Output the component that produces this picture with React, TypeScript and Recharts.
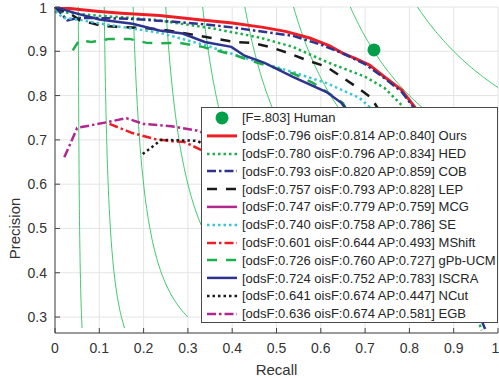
import { ComposedChart, Line, Scatter, XAxis, YAxis, CartesianGrid, Legend, Label } from "recharts";

const RECALL_TICKS = [0, 0.1, 0.2, 0.3, 0.4, 0.5, 0.6, 0.7, 0.8, 0.9, 1];
const PRECISION_TICKS = [0.3, 0.4, 0.5, 0.6, 0.7, 0.8, 0.9, 1];
const ISO_F = [0.1, 0.2, 0.3, 0.4, 0.5, 0.6, 0.7, 0.8, 0.9];

const HUMAN_F = ".803";
const HUMAN = [{ r: 0.72, p: 0.903 }];

const NAMES = ["Ours", "HED", "COB", "LEP", "MCG", "SE", "MShift", "gPb-UCM", "ISCRA", "NCut", "EGB"];
const ODS = ["0.796", "0.780", "0.793", "0.757", "0.747", "0.740", "0.601", "0.726", "0.724", "0.641", "0.636"];
const OIS = ["0.814", "0.796", "0.820", "0.793", "0.779", "0.758", "0.644", "0.760", "0.752", "0.674", "0.674"];
const AP = ["0.840", "0.834", "0.859", "0.828", "0.759", "0.786", "0.493", "0.727", "0.783", "0.447", "0.581"];

// [recall, precision] pairs
const OURS = [[0, 1], [0.05, 0.995], [0.1, 0.99], [0.15, 0.986], [0.236, 0.981], [0.326, 0.971], [0.4, 0.964], [0.47, 0.954], [0.52, 0.945], [0.575, 0.93], [0.62, 0.912], [0.649, 0.896], [0.68, 0.883], [0.71, 0.869], [0.744, 0.842], [0.782, 0.813], [0.812, 0.774], [0.84, 0.71], [0.87, 0.6], [0.895, 0.48], [0.915, 0.38], [0.93, 0.31]];
const HED = [[0, 0.99], [0.05, 0.985], [0.1, 0.98], [0.15, 0.977], [0.225, 0.971], [0.354, 0.952], [0.462, 0.931], [0.537, 0.91], [0.613, 0.876], [0.699, 0.843], [0.744, 0.817], [0.782, 0.779], [0.81, 0.73], [0.84, 0.66], [0.87, 0.57], [0.9, 0.47], [0.93, 0.37], [0.963, 0.27]];
const COB = [[0, 1], [0.028, 0.97], [0.05, 0.975], [0.1, 0.975], [0.175, 0.973], [0.25, 0.968], [0.326, 0.962], [0.4, 0.954], [0.47, 0.944], [0.537, 0.935], [0.6, 0.915], [0.65, 0.895], [0.7, 0.871], [0.744, 0.839], [0.782, 0.809], [0.812, 0.77], [0.85, 0.68], [0.88, 0.58], [0.91, 0.46], [0.94, 0.35], [0.972, 0.27]];
const LEP = [[0, 1], [0.02, 0.99], [0.033, 0.986], [0.062, 0.966], [0.082, 0.964], [0.105, 0.957], [0.146, 0.955], [0.236, 0.95], [0.315, 0.937], [0.405, 0.921], [0.444, 0.919], [0.484, 0.91], [0.53, 0.895], [0.568, 0.88], [0.613, 0.865], [0.68, 0.82], [0.714, 0.795], [0.76, 0.72], [0.8, 0.62], [0.84, 0.5], [0.87, 0.4], [0.89, 0.33]];
const MCG = [[0.36, 0.76], [0.45, 0.745], [0.55, 0.72], [0.65, 0.68], [0.72, 0.62], [0.78, 0.52], [0.82, 0.42], [0.85, 0.33]];
const SE = [[0, 0.99], [0.02, 0.975], [0.05, 0.972], [0.1, 0.963], [0.15, 0.955], [0.236, 0.942], [0.338, 0.914], [0.428, 0.885], [0.473, 0.872], [0.537, 0.853], [0.613, 0.828], [0.687, 0.795], [0.71, 0.774], [0.76, 0.68], [0.8, 0.56], [0.83, 0.45], [0.86, 0.34]];
const MSHIFT = [[0.123, 0.736], [0.173, 0.716], [0.225, 0.702], [0.263, 0.697], [0.292, 0.695], [0.331, 0.677], [0.38, 0.64], [0.43, 0.58], [0.48, 0.5], [0.52, 0.42], [0.55, 0.35]];
const GPB = [[0.04, 0.902], [0.055, 0.925], [0.082, 0.921], [0.123, 0.928], [0.168, 0.928], [0.207, 0.919], [0.24, 0.918], [0.28, 0.919], [0.333, 0.91], [0.41, 0.89], [0.45, 0.876], [0.49, 0.865], [0.537, 0.85], [0.58, 0.83], [0.626, 0.8], [0.65, 0.783], [0.69, 0.71], [0.73, 0.6], [0.76, 0.5], [0.79, 0.4], [0.81, 0.33]];
const ISCRA = [[0, 1], [0.05, 0.985], [0.1, 0.972], [0.175, 0.962], [0.236, 0.947], [0.288, 0.94], [0.338, 0.921], [0.398, 0.91], [0.428, 0.89], [0.473, 0.874], [0.537, 0.842], [0.613, 0.808], [0.647, 0.783], [0.68, 0.74], [0.72, 0.64], [0.76, 0.52], [0.79, 0.42], [0.82, 0.33]];
const NCUT = [[0.198, 0.668], [0.24, 0.7], [0.28, 0.699], [0.32, 0.698], [0.4, 0.66], [0.5, 0.55], [0.6, 0.43], [0.66, 0.33]];
const EGB = [[0.021, 0.661], [0.033, 0.688], [0.05, 0.727], [0.118, 0.74], [0.161, 0.749], [0.2, 0.736], [0.262, 0.731], [0.32, 0.721], [0.38, 0.7], [0.45, 0.65], [0.52, 0.55], [0.58, 0.44], [0.62, 0.36]];

const CURVES = [OURS, HED, COB, LEP, MCG, SE, MSHIFT, GPB, ISCRA, NCUT, EGB];

const FONT = "'Liberation Sans', Arial, Helvetica, sans-serif";
const RED = "#ec1f27";
const GREEN = "#1eae4b";
const NAVY = "#2e338f";
const BLACK = "#1a1a1a";
const MAGENTA = "#b0278f";
const CYAN = "#3cc5d2";
const ISO_COLOR = "#3cc86c";
const HUMAN_COLOR = "#00a04b";

const SOLID = undefined;
const DOT = "2.5 3";
const DASH = "10 9";
const DASHDOT = "9 3 2.5 3";

const STYLES = [
  { color: RED, dash: SOLID, width: 3 },
  { color: GREEN, dash: DOT, width: 2.5 },
  { color: NAVY, dash: DASHDOT, width: 2.5 },
  { color: BLACK, dash: DASH, width: 2.5 },
  { color: MAGENTA, dash: SOLID, width: 2.5 },
  { color: CYAN, dash: DOT, width: 2.5 },
  { color: RED, dash: DASHDOT, width: 2.5 },
  { color: GREEN, dash: DASH, width: 2.5 },
  { color: NAVY, dash: SOLID, width: 2.5 },
  { color: BLACK, dash: DOT, width: 2.5 },
  { color: MAGENTA, dash: DASHDOT, width: 2.5 },
];

const series = NAMES.map((name, i) => ({
  name,
  label: `[odsF:${ODS[i]} oisF:${OIS[i]} AP:${AP[i]}] ${name}`,
  data: CURVES[i].map(([r, p]) => ({ r, p })),
  ...STYLES[i],
}));

// iso-F contour P = F*R / (2R - F), mirrored half first so recall keeps increasing
function isoCurve(f: number) {
  const pts: { r: number; p: number }[] = [];
  const n = Math.round(f * 200);
  for (let i = 200; i >= n; i--) {
    const y = i / 200;
    if (y >= 0.275) pts.push({ r: (f * y) / (2 * y - f), p: y });
  }
  for (let i = n + 1; i <= 200; i++) {
    const x = i / 200;
    const y = (f * x) / (2 * x - f);
    if (y >= 0.3) pts.push({ r: x, p: y });
  }
  return pts;
}

const noTick = () => <g />;

function LegendRow({ sample, text }: { sample: any; text: string }) {
  return (
    <div style={{ height: 17.8, display: "flex", alignItems: "center", whiteSpace: "nowrap" }}>
      <svg width={40} height={17.8} style={{ flex: "none" }}>{sample}</svg>
      <span>{text}</span>
    </div>
  );
}

function PRLegend() {
  return (
    <div
      style={{
        width: 297,
        height: 216,
        boxSizing: "border-box",
        border: "1px solid #4a4a4a",
        background: "#fff",
        paddingTop: 1,
        fontFamily: FONT,
        fontSize: 13,
        color: "#262626",
      }}
    >
      <LegendRow sample={<circle cx={20} cy={8.9} r={6.5} fill={HUMAN_COLOR} />} text={`[F=${HUMAN_F}] Human`} />
      {series.map((s) => (
        <LegendRow
          key={s.name}
          text={s.label}
          sample={<line x1={5} x2={35} y1={8.9} y2={8.9} stroke={s.color} strokeWidth={s.width} strokeDasharray={s.dash} />}
        />
      ))}
    </div>
  );
}

export default function App() {
  return (
    <div style={{ position: "absolute", left: 0, top: 0, background: "#fff" }}>
      <ComposedChart width={499} height={378} margin={{ top: 7, right: 1, bottom: 0, left: 0 }}>
        <CartesianGrid stroke="#e4e4e4" />
        <XAxis
          dataKey="r"
          type="number"
          domain={[0, 1]}
          ticks={RECALL_TICKS}
          height={45}
          tickSize={-5}
          tickMargin={15}
          stroke="#444"
          tick={{ fill: "#333", fontSize: 14, fontFamily: FONT }}
        >
          <Label
            content={() => (
              <text x={276.5} y={375} textAnchor="middle" fill="#333" fontSize={15} fontFamily={FONT}>
                Recall
              </text>
            )}
          />
        </XAxis>
        <XAxis xAxisId="top" orientation="top" type="number" domain={[0, 1]} ticks={RECALL_TICKS} height={0} tickSize={-5} stroke="#444" tick={noTick} />
        <YAxis
          dataKey="p"
          type="number"
          domain={[0.264, 1]}
          ticks={PRECISION_TICKS}
          width={55}
          tickSize={-5}
          tickMargin={13}
          stroke="#444"
          allowDataOverflow
          tick={{ fill: "#333", fontSize: 14, fontFamily: FONT }}
        >
          <Label
            content={() => (
              <text transform="translate(20,228.5) rotate(-90)" textAnchor="middle" fill="#333" fontSize={15} fontFamily={FONT}>
                Precision
              </text>
            )}
          />
        </YAxis>
        <YAxis yAxisId="right" orientation="right" type="number" domain={[0.264, 1]} ticks={PRECISION_TICKS} width={0} tickSize={-5} stroke="#444" tick={noTick} />

        {ISO_F.map((f) => (
          <Line
            key={`iso-${f}`}
            data={isoCurve(f)}
            dataKey="p"
            type="linear"
            stroke={ISO_COLOR}
            strokeWidth={1}
            dot={false}
            activeDot={false}
            isAnimationActive={false}
          />
        ))}

        <Scatter
          data={HUMAN}
          dataKey="p"
          isAnimationActive={false}
          shape={(props: any) => <circle cx={props.cx} cy={props.cy} r={6.5} fill={HUMAN_COLOR} />}
        />

        {series.map((s) => (
          <Line
            key={s.name}
            data={s.data}
            dataKey="p"
            name={s.name}
            type="linear"
            stroke={s.color}
            strokeWidth={s.width}
            strokeDasharray={s.dash}
            dot={false}
            activeDot={false}
            isAnimationActive={false}
          />
        ))}

        <Legend
          content={() => <PRLegend />}
          layout="vertical"
          align="center"
          verticalAlign="middle"
          wrapperStyle={{ left: 201, top: 107, width: 297, height: 216 }}
        />
      </ComposedChart>
    </div>
  );
}
